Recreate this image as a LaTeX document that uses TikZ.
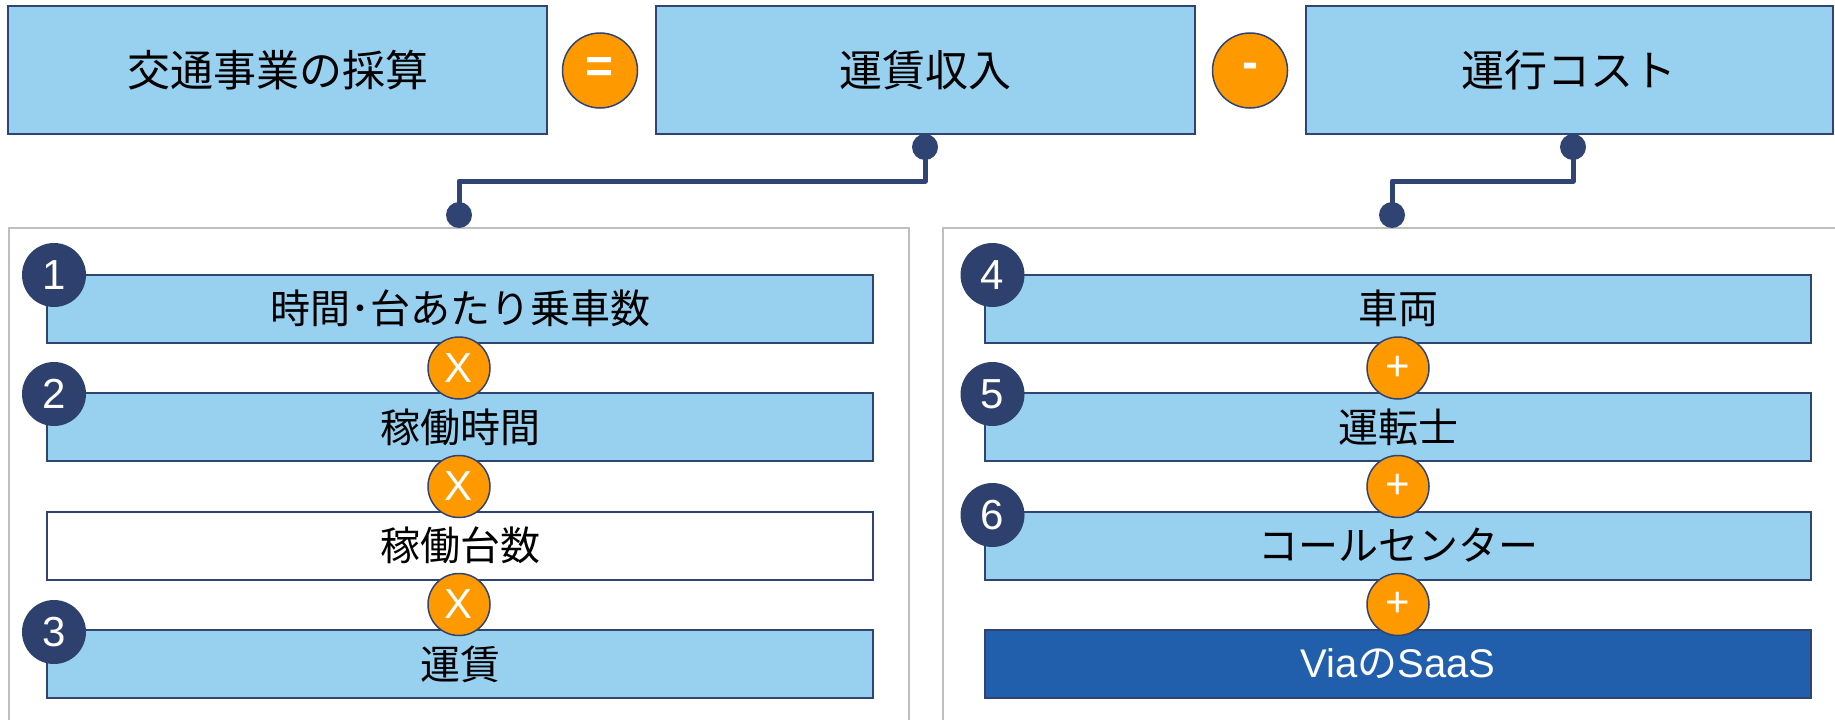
\documentclass[tikz,border=0pt]{standalone}
\usepackage{fontspec}
\setmainfont{Liberation Sans}
\newfontfamily\jp{Noto Sans CJK JP}
\definecolor{lblue}{RGB}{152,208,240}
\definecolor{navy}{RGB}{47,68,114}
\definecolor{navyc}{RGB}{46,64,110}
\definecolor{orng}{RGB}{255,153,0}
\definecolor{dblue}{RGB}{33,95,172}
\definecolor{pgray}{RGB}{191,191,191}
\tikzset{
  topbox/.style={draw=navy, line width=2pt, fill=lblue, minimum height=128pt, inner sep=0pt, font=\jp\fontsize{43}{50}\selectfont},
  bar/.style={draw=navy, line width=2pt, fill=lblue, minimum width=826pt, minimum height=68pt, inner sep=0pt, font=\jp\fontsize{40}{48}\selectfont},
  opbig/.style={circle, draw=navy, line width=1.5pt, fill=orng, minimum size=75pt, inner sep=0pt, text=white, font=\bfseries\fontsize{48}{50}\selectfont},
  opsmall/.style={circle, draw=navy, line width=1.5pt, fill=orng, minimum size=62pt, inner sep=0pt, text=white, font=\fontsize{42}{48}\selectfont},
  numc/.style={circle, fill=navyc, minimum size=64pt, inner sep=0pt, text=white, font=\fontsize{42}{48}\selectfont},
  dot/.style={circle, fill=navy, minimum size=26pt, inner sep=0pt},
  conn/.style={draw=navy, line width=5pt, line join=round},
  panel/.style={draw=pgray, line width=2pt}
}
\begin{document}
\begin{tikzpicture}[x=1pt,y=-1pt]
\useasboundingbox (0,0) rectangle (1835,720);
% panels
\draw[panel] (8.5,720) -- (8.5,228) -- (909,228) -- (909,720);
\draw[panel] (943,720) -- (943,228) -- (1835,228);
% top boxes
\node[topbox, minimum width=539pt] (b1) at (277.5,70) {交通事業の採算};
\node[topbox, minimum width=539pt] (b2) at (925.5,70) {運賃収入};
\node[topbox, minimum width=527pt] (b3) at (1569,70) {運行コスト};
\node[opbig] (eq) at (600,70.5) {=};
\node[opbig] (mi) at (1250,70.5) {-};
% connectors
\node[dot] (d1) at (925,147) {};
\node[dot] (d2) at (459,215) {};
\node[dot] (d3) at (1573,147) {};
\node[dot] (d4) at (1392,215) {};
\coordinate (m1) at (925,181);
\coordinate (m2) at (1573,181);
\draw[conn] (d1.center) -- (m1) -| (d2.center);
\draw[conn] (d3.center) -- (m2) -| (d4.center);
% left bars
\node[bar] (l1) at (460,308.5) {時間･台あたり乗車数};
\node[bar] (l2) at (460,427) {稼働時間};
\node[bar, fill=white] (l3) at (460,545.5) {稼働台数};
\node[bar] (l4) at (460,664) {運賃};
\node[opsmall] (x1) at (459,368) {X};
\node[opsmall] (x2) at (459,486.5) {X};
\node[opsmall] (x3) at (459,604.5) {X};
\node[numc] (n1) at (54,275) {1};
\node[numc] (n2) at (54,394) {2};
\node[numc] (n3) at (54,632) {3};
% right bars
\node[bar] (r1) at (1398,308.5) {車両};
\node[bar] (r2) at (1398,427) {運転士};
\node[bar] (r3) at (1398,545.5) {コールセンター};
\node[bar, fill=dblue, text=white, font=\fontsize{40}{48}\selectfont] (r4) at (1398,664) {Via{\jp の}SaaS};
\node[opsmall] (p1) at (1398,368) {+};
\node[opsmall] (p2) at (1398,486.5) {+};
\node[opsmall] (p3) at (1398,604.5) {+};
\node[numc] (n4) at (992.5,275) {4};
\node[numc] (n5) at (992.5,394) {5};
\node[numc] (n6) at (992.5,515) {6};
\end{tikzpicture}
\end{document}
